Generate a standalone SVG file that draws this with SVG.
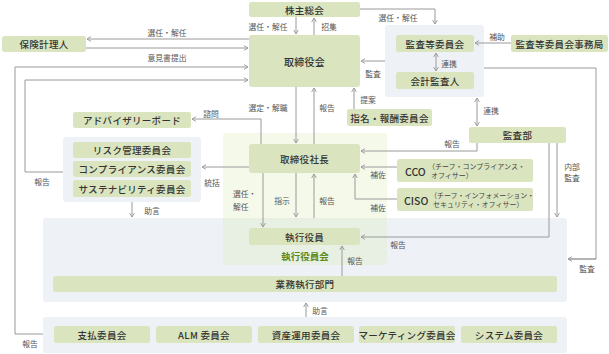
<svg xmlns="http://www.w3.org/2000/svg" width="609" height="354" viewBox="0 0 609 354">
<style>
.grp{fill:#eef1f5}
.pale{fill:#dce8b4;fill-opacity:0.28}
.box{fill:#dae5bf}
.nt{font-family:"Noto Sans CJK JP","Noto Sans",sans-serif;font-size:9.5px;font-weight:500;fill:#333;text-anchor:middle;dominant-baseline:central;letter-spacing:0.3px}
.lb{font-family:"Noto Sans CJK JP","Noto Sans",sans-serif;font-size:7.8px;fill:#555;text-anchor:middle;dominant-baseline:central}
.sm{font-family:"Noto Sans CJK JP","Noto Sans",sans-serif;font-size:7px;fill:#444;dominant-baseline:central}
.big{font-family:"Noto Sans CJK JP","Noto Sans",sans-serif;font-size:10.5px;font-weight:500;fill:#333;dominant-baseline:central}
.gt{font-family:"Noto Sans CJK JP","Noto Sans",sans-serif;font-size:9.5px;font-weight:700;fill:#5a8a1c;text-anchor:middle;dominant-baseline:central}
.ln{fill:none;stroke:#9a9a9a;stroke-width:1}
.ln.e{marker-end:url(#a)}
.ln.b{marker-end:url(#a);marker-start:url(#a)}
</style>
<defs>
<marker id="a" viewBox="0 0 6 6" refX="5.5" refY="3" markerWidth="6" markerHeight="6" orient="auto-start-reverse" markerUnits="userSpaceOnUse">
<path d="M1.5,0.6 L5.5,3 L1.5,5.4" fill="none" stroke="#999" stroke-width="0.9"/>
</marker>
</defs>

<g id="groups">
<rect class="grp" x="385" y="25" width="99" height="72" rx="3"/>
<rect class="grp" x="63" y="137" width="138" height="65" rx="3"/>
<rect class="grp" x="43" y="218" width="524" height="84" rx="3"/>
<rect class="grp" x="43" y="317" width="524" height="36" rx="3"/>
<rect class="pale" x="223" y="133" width="164" height="132" rx="3"/>
</g>

<g id="connectors">
<path class="ln e" d="M296,17 V34"/>
<path class="ln e" d="M314,35 V18"/>
<path class="ln e" d="M360,9 H435 V24"/>
<path class="ln e" d="M249,39 H87"/>
<path class="ln e" d="M86,48 H248"/>
<path class="ln e" d="M43,334 H15 V67 H248"/>
<path class="ln e" d="M63,172 H25 V80 H248"/>
<path class="ln e" d="M385,61 H361"/>
<path class="ln e" d="M511,43 H475"/>
<path class="ln b" d="M436,53 V71"/>
<path class="ln" d="M484,68 H596 V259 H568"/>
<path class="ln e" d="M596,259 H568"/>
<path class="ln b" d="M477,98 V126"/>
<path class="ln e" d="M477,143 V151 H361"/>
<path class="ln e" d="M557,143 V217"/>
<path class="ln e" d="M549,143 V237 H361"/>
<path class="ln e" d="M296,87 V143"/>
<path class="ln e" d="M314,144 V88"/>
<path class="ln e" d="M354,109 V88"/>
<path class="ln e" d="M261,144 V119 H192"/>
<path class="ln e" d="M249,167 H202"/>
<path class="ln e" d="M132,202 V217"/>
<path class="ln e" d="M397,167 H361"/>
<path class="ln e" d="M397,199 H355 V174"/>
<path class="ln e" d="M263,173 V227"/>
<path class="ln e" d="M296,173 V217"/>
<path class="ln e" d="M314,218 V174"/>
<path class="ln e" d="M342,276 V246"/>
<path class="ln e" d="M306,317 V303"/>
</g>

<g id="labels">
<text class="lb" x="268" y="26">選任・解任</text>
<text class="lb" x="329" y="26">招集</text>
<text class="lb" x="398" y="17">選任・解任</text>
<text class="lb" x="167" y="32">選任・解任</text>
<text class="lb" x="167" y="57">意見書提出</text>
<text class="lb" x="373" y="73">監査</text>
<text class="lb" x="497" y="36">補助</text>
<text class="lb" x="449" y="63">連携</text>
<text class="lb" x="491" y="110">連携</text>
<text class="lb" x="268" y="107">選定・解職</text>
<text class="lb" x="327" y="107">報告</text>
<text class="lb" x="368" y="99">提案</text>
<text class="lb" x="211" y="113">諮問</text>
<text class="lb" x="452" y="143">報告</text>
<text class="lb" x="572" y="166">内部</text>
<text class="lb" x="572" y="177">監査</text>
<text class="lb" x="212" y="182">統括</text>
<text class="lb" x="42" y="181">報告</text>
<text class="lb" x="152" y="210">助言</text>
<text class="lb" x="378" y="174">補佐</text>
<text class="lb" x="378" y="207">補佐</text>
<text class="lb" x="233" y="193.5" style="text-anchor:start">選任・</text>
<text class="lb" x="233" y="206" style="text-anchor:start">解任</text>
<text class="lb" x="282" y="200">指示</text>
<text class="lb" x="327" y="200">報告</text>
<text class="lb" x="398" y="244">報告</text>
<text class="lb" x="355" y="260">報告</text>
<text class="lb" x="587" y="268">監査</text>
<text class="lb" x="320" y="310">助言</text>
<text class="lb" x="30" y="343">報告</text>
</g>

<g id="n-kabunushi"><rect class="box" x="249" y="2" width="111" height="15" rx="2.5"/><text class="nt" x="304.5" y="9.5">株主総会</text></g>
<g id="n-torishimariyakukai"><rect class="box" x="249" y="35" width="111" height="52" rx="3"/><text class="nt" x="304.5" y="61" style="font-size:10px">取締役会</text></g>
<g id="n-hoken"><rect class="box" x="2" y="36" width="84" height="16" rx="2.5"/><text class="nt" x="44" y="44">保険計理人</text></g>
<g id="n-kansatou"><rect class="box" x="396" y="35" width="78" height="17" rx="2.5"/><text class="nt" x="435" y="43.5">監査等委員会</text></g>
<g id="n-kaikei"><rect class="box" x="396" y="72" width="78" height="17" rx="2.5"/><text class="nt" x="435" y="80.5">会計監査人</text></g>
<g id="n-jimukyoku"><rect class="box" x="511" y="35" width="97" height="17" rx="2.5"/><text class="nt" x="559.5" y="43.5">監査等委員会事務局</text></g>
<g id="n-shimei"><rect class="box" x="347" y="109" width="85" height="17" rx="2.5"/><text class="nt" x="389.5" y="117.5">指名・報酬委員会</text></g>
<g id="n-advisory"><rect class="box" x="73" y="112" width="118" height="16" rx="2.5"/><text class="nt" x="132" y="120">アドバイザリーボード</text></g>
<g id="n-kansabu"><rect class="box" x="469" y="127" width="97" height="16" rx="2.5"/><text class="nt" x="517.5" y="135">監査部</text></g>
<g id="n-shacho"><rect class="box" x="249" y="144" width="111" height="29" rx="3"/><text class="nt" x="304.5" y="158.5">取締役社長</text></g>
<g id="n-risk"><rect class="box" x="73" y="142" width="118" height="16" rx="2.5"/><text class="nt" x="132" y="150">リスク管理委員会</text></g>
<g id="n-compliance"><rect class="box" x="73" y="161" width="118" height="16" rx="2.5"/><text class="nt" x="132" y="169">コンプライアンス委員会</text></g>
<g id="n-sustain"><rect class="box" x="73" y="180" width="118" height="17" rx="2.5"/><text class="nt" x="132" y="188.5">サステナビリティ委員会</text></g>
<g id="n-cco"><rect class="box" x="397" y="159" width="136" height="23" rx="2.5"/><text class="big" x="405" y="171">CCO</text><text class="sm" x="428" y="166">（チーフ・コンプライアンス・</text><text class="sm" x="431" y="175">オフィサー）</text></g>
<g id="n-ciso"><rect class="box" x="397" y="188" width="136" height="23" rx="2.5"/><text class="big" x="404" y="200">CISO</text><text class="sm" x="430" y="195">（チーフ・インフォメーション・</text><text class="sm" x="433" y="204">セキュリティ・オフィサー）</text></g>
<g id="n-shikkoyakuin"><rect class="box" x="249" y="228" width="111" height="17" rx="2.5"/><text class="nt" x="304.5" y="236.5">執行役員</text></g>
<g id="n-shikkoyakuinkai"><text class="gt" x="305" y="256">執行役員会</text></g>
<g id="n-gyomu"><rect class="box" x="53" y="276" width="504" height="16" rx="2.5"/><text class="nt" x="305" y="284">業務執行部門</text></g>
<g id="n-shiharai"><rect class="box" x="54" y="326" width="96" height="17" rx="2.5"/><text class="nt" x="102" y="334.5">支払委員会</text></g>
<g id="n-alm"><rect class="box" x="156" y="326" width="96" height="17" rx="2.5"/><text class="nt" x="204" y="334.5">ALM 委員会</text></g>
<g id="n-shisan"><rect class="box" x="258" y="326" width="96" height="17" rx="2.5"/><text class="nt" x="306" y="334.5">資産運用委員会</text></g>
<g id="n-marketing"><rect class="box" x="359" y="326" width="96" height="17" rx="2.5"/><text class="nt" x="407" y="334.5">マーケティング委員会</text></g>
<g id="n-system"><rect class="box" x="461" y="326" width="96" height="17" rx="2.5"/><text class="nt" x="509" y="334.5">システム委員会</text></g>
</svg>
